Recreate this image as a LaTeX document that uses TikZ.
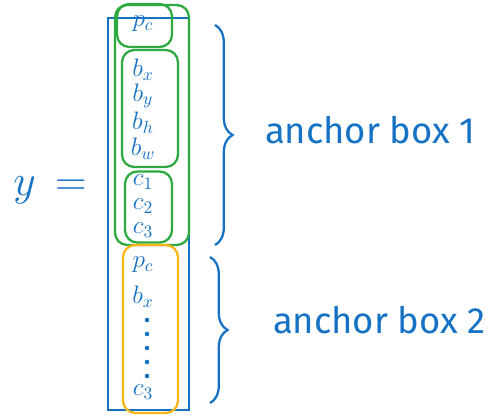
\documentclass[tikz,border=0pt]{standalone}
\usepackage{fontspec}
\setmainfont{Fira Sans}
\usetikzlibrary{decorations.pathreplacing}
\definecolor{penblue}{RGB}{22,114,196}
\definecolor{pengreen}{RGB}{44,170,64}
\definecolor{penorange}{RGB}{250,182,20}
\begin{document}
\begin{tikzpicture}[x=0.02cm,y=-0.02cm,line width=1.3pt,
  every node/.style={font=\Large,text=penblue},
  entry/.style={inner sep=0pt},
  greenbox/.style={draw=pengreen,rounded corners=7pt},
  anchorbrace/.style={draw=penblue,decorate,decoration={brace,amplitude=10pt}}]
\useasboundingbox (0,0) rectangle (503,416);
% output vector
\node[draw=penblue,minimum width=1.62cm,minimum height=7.84cm] (vec) at (148.5,214) {};
\node[greenbox,minimum width=1.48cm,minimum height=4.8cm] (box1) at (152,125) {};
\node[greenbox,minimum width=1.1cm,minimum height=0.86cm] (pcbox) at (144.5,25.5) {};
\node[greenbox,minimum width=1.12cm,minimum height=2.34cm] (bbox) at (150,108.5) {};
\node[greenbox,minimum width=0.94cm,minimum height=1.42cm] (cbox) at (148.5,207) {};
\node[draw=penorange,rounded corners=7pt,minimum width=1.1cm,minimum height=3.36cm] (box2) at (150.5,329) {};
% entries of anchor box 1
\node[entry] (pc1) at (143,24) {$p_c$};
\node[entry] (bx1) at (143,70) {$b_x$};
\node[entry] (by1) at (143,96) {$b_y$};
\node[entry] (bh1) at (143,123) {$b_h$};
\node[entry] (bw1) at (143,149) {$b_w$};
\node[entry] (c11) at (143,182) {$c_1$};
\node[entry] (c21) at (143,206) {$c_2$};
\node[entry] (c31) at (143,230) {$c_3$};
% entries of anchor box 2
\node[entry] (pc2) at (143,265) {$p_c$};
\node[entry] (bx2) at (143,297) {$b_x$};
\foreach \k in {0,...,4}
  \fill[penblue] (147,320+14*\k) circle (1.3pt);
\node[entry] (c32) at (143,392) {$c_3$};
% left side
\node[font=\fontsize{40}{40}\selectfont] (ylabel) at (50,190) {$y\,=$};
% braces
\coordinate (b1top) at (215,25);
\coordinate (b1bot) at (215,245);
\coordinate (b2top) at (210,257);
\coordinate (b2bot) at (210,403);
\draw[anchorbrace] (b1top) -- (b1bot);
\draw[anchorbrace] (b2top) -- (b2bot);
\node[font=\huge,anchor=west] (lab1) at (258,130) {anchor box 1};
\node[font=\huge,anchor=west] (lab2) at (266,320) {anchor box 2};
\end{tikzpicture}
\end{document}
